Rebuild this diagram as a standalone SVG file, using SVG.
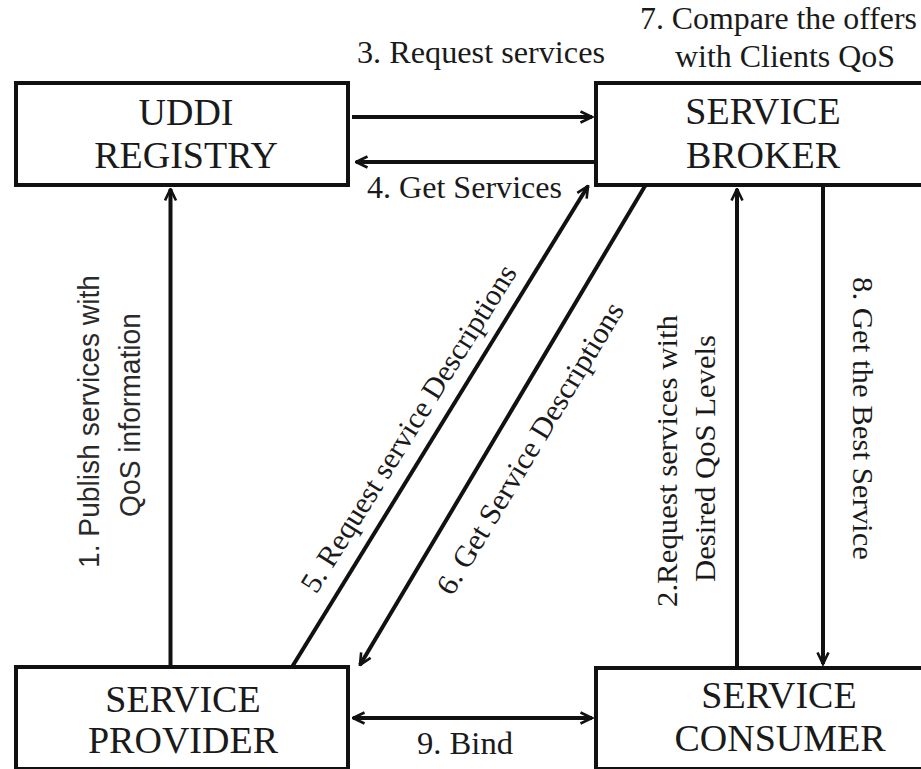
<svg xmlns="http://www.w3.org/2000/svg" width="921" height="769" viewBox="0 0 921 769">
<style>
.box{fill:#fff;stroke:#111;stroke-width:4}
.bt{font-family:"Liberation Serif","Times New Roman",serif;font-size:38px;fill:#1a1a1a;text-anchor:middle}
.lt{font-family:"Liberation Serif","Times New Roman",serif;font-size:31px;fill:#1a1a1a;text-anchor:middle}
.st{font-family:"Liberation Sans",Arial,sans-serif;font-size:30px;fill:#2a2a2a;text-anchor:middle}
.ln{stroke:#111;stroke-width:4;fill:none}
</style>
<defs>
<marker id="ah" viewBox="0 0 14 14" refX="12.5" refY="7" markerWidth="14" markerHeight="14" markerUnits="userSpaceOnUse" orient="auto-start-reverse">
<path d="M1,1.5 L12.5,7 L1,12.5" fill="none" stroke="#111" stroke-width="2.6"/>
</marker>
</defs>
<rect width="921" height="769" fill="#fff"/>
<g id="connectors">
<line class="ln" x1="352" y1="117" x2="592" y2="117" marker-end="url(#ah)"/>
<line class="ln" x1="595" y1="162" x2="356" y2="162" marker-end="url(#ah)"/>
<line class="ln" x1="170.5" y1="667" x2="170.5" y2="189" marker-end="url(#ah)"/>
<line class="ln" x1="737" y1="668" x2="737" y2="189" marker-end="url(#ah)"/>
<line class="ln" x1="823" y1="186" x2="823" y2="664" marker-end="url(#ah)"/>
<line class="ln" x1="292" y1="667" x2="588" y2="186" marker-end="url(#ah)"/>
<line class="ln" x1="645" y1="186" x2="360" y2="665" marker-end="url(#ah)"/>
<line class="ln" x1="353" y1="718" x2="592" y2="718" marker-start="url(#ah)" marker-end="url(#ah)"/>
<text class="lt" x="481" y="63" textLength="248" lengthAdjust="spacingAndGlyphs">3. Request services</text>
<text class="lt" x="464.5" y="198" textLength="195" lengthAdjust="spacingAndGlyphs">4. Get Services</text>
<text class="lt" x="778.5" y="29" textLength="277" lengthAdjust="spacingAndGlyphs">7. Compare the offers</text>
<text class="lt" x="785" y="67" textLength="220" lengthAdjust="spacingAndGlyphs">with Clients QoS</text>
<text class="lt" x="465" y="754" textLength="96" lengthAdjust="spacingAndGlyphs">9. Bind</text>
<text class="st" transform="translate(99,421.5) rotate(-90)" textLength="293" lengthAdjust="spacingAndGlyphs">1. Publish services with</text>
<text class="st" transform="translate(140,415) rotate(-90)" textLength="204" lengthAdjust="spacingAndGlyphs">QoS information</text>
<text class="lt" style="font-size:30px" transform="translate(677,461) rotate(-90)" textLength="292" lengthAdjust="spacingAndGlyphs">2.Request services with</text>
<text class="lt" style="font-size:30px" transform="translate(715,458.5) rotate(-90)" textLength="247" lengthAdjust="spacingAndGlyphs">Desired QoS Levels</text>
<text class="lt" style="font-size:29px" transform="translate(853,418.5) rotate(90)" textLength="283" lengthAdjust="spacingAndGlyphs">8. Get the Best Service</text>
<text class="lt" style="font-size:30px" transform="translate(417,433.7) rotate(-58)" textLength="380" lengthAdjust="spacingAndGlyphs">5. Request service Descriptions</text>
<text class="lt" style="font-size:30px" transform="translate(538.5,453.3) rotate(-59)" textLength="335" lengthAdjust="spacingAndGlyphs">6. Get Service Descriptions</text>
</g>
<g id="uddi">
<rect class="box" x="16" y="83" width="332" height="102"/>
<text class="bt" x="186" y="125">UDDI</text>
<text class="bt" x="186" y="168">REGISTRY</text>
</g>
<g id="broker">
<rect class="box" x="596" y="83" width="400" height="102"/>
<text class="bt" x="763" y="124">SERVICE</text>
<text class="bt" x="763" y="168">BROKER</text>
</g>
<g id="provider">
<rect class="box" x="16" y="667" width="332" height="102"/>
<text class="bt" x="183" y="712">SERVICE</text>
<text class="bt" x="183" y="753">PROVIDER</text>
</g>
<g id="consumer">
<rect class="box" x="596" y="668" width="400" height="101"/>
<text class="bt" x="779" y="708">SERVICE</text>
<text class="bt" x="780" y="751">CONSUMER</text>
</g>
</svg>
